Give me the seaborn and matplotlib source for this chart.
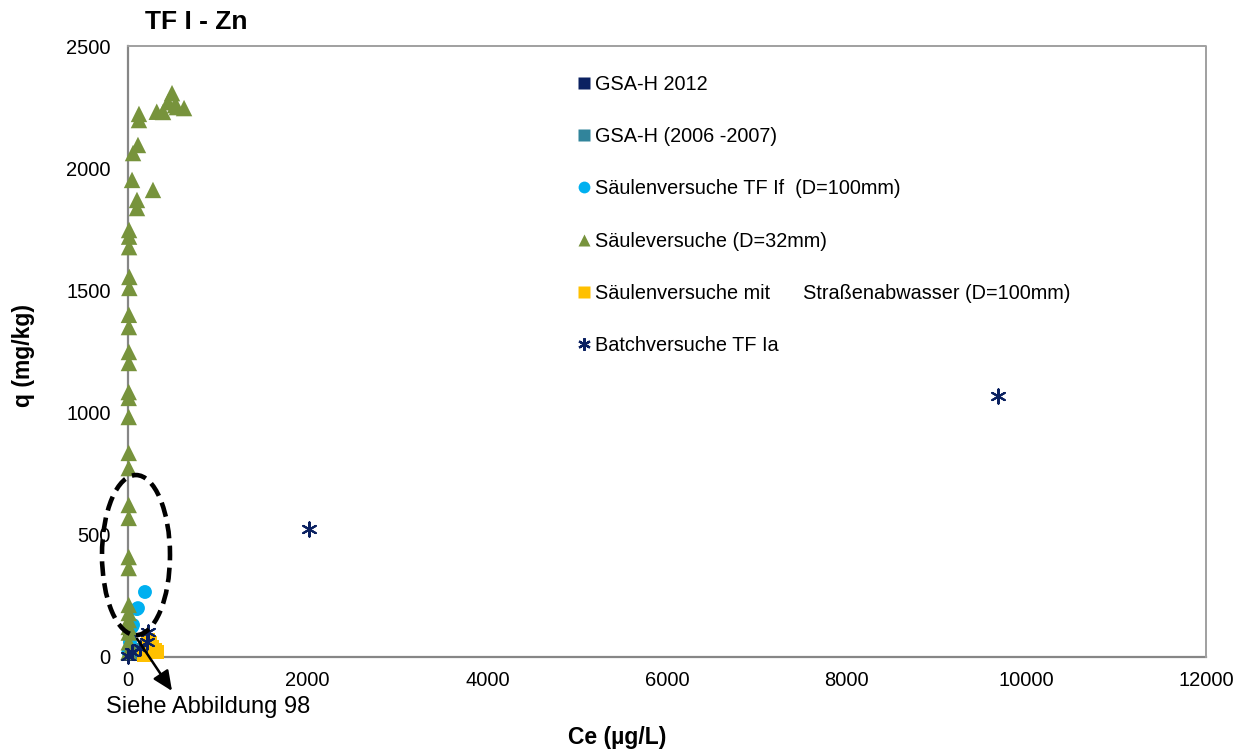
import numpy as np
import pandas as pd
import matplotlib
matplotlib.use("Agg")
import matplotlib.pyplot as plt
from matplotlib.patches import Ellipse
from matplotlib.lines import Line2D
import seaborn as sns

sns.set_theme(style="white")
plt.rcParams['font.family'] = ['Liberation Sans', 'DejaVu Sans']
plt.rcParams['text.color'] = 'black'
plt.rcParams['axes.labelcolor'] = 'black'
plt.rcParams['xtick.color'] = 'black'
plt.rcParams['ytick.color'] = 'black'

# ---------------- data ----------------
title = "TF I - Zn"
x_label = "Ce (µg/L)"
y_label = "q (mg/kg)"
note = "Siehe Abbildung 98"

series_names = [
    "GSA-H 2012",
    "GSA-H (2006 -2007)",
    "Säulenversuche TF If  (D=100mm)",
    "Säuleversuche (D=32mm)",
    "Säulenversuche mit      Straßenabwasser (D=100mm)",
    "Batchversuche TF Ia",
]

gsa2012_x = [15, 30]
gsa2012_y = [95, 10]

gsa0607_x = [134, 60]
gsa0607_y = [16, 30]

tfif_x = [189, 111, 56, 22, 5, 100, 45]
tfif_y = [266, 200, 131, 61, 20, 196, 123]

d32_x = [122, 122, 320, 390, 490, 445, 523, 545, 624, 111, 56, 45, 278, 100, 100,
         12, 12, 12, 15, 15, 10, 10, 10, 10, 8, 8, 8, 8, 8, 8, 8, 8, 8, 8, 8, 8, 8, 8, 8, 5]
d32_y = [2222, 2197, 2231, 2230, 2307, 2270, 2258, 2250, 2246, 2095, 2062, 1952, 1911, 1870, 1837,
         1747, 1720, 1677, 1555, 1510, 1400, 1350, 1248, 1203, 1084, 1060, 982, 835, 773,
         622, 569, 409, 364, 213, 180, 151, 123, 100, 60, 20]

strasse_x = [223, 323, 267, 300, 200, 250, 180]
strasse_y = [70, 20, 41, 29, 30, 57, 10]

batch_x = [2015, 9690, 223, 45, 134, 211, 5]
batch_y = [524, 1068, 102, 20, 37, 61, 5]

x_ticks = [0, 2000, 4000, 6000, 8000, 10000, 12000]
y_ticks = [0, 500, 1000, 1500, 2000, 2500]

# ---------------- styles ----------------
colors = ["#0B2161", "#31849B", "#00B0F0", "#77933C", "#FFC000", "#0B2161"]
markers = ["s", "s", "o", "^", "s", (6, 2, 0)]
sizes = [90, 90, 100, 140, 100, 105]

xs = [gsa2012_x, gsa0607_x, tfif_x, d32_x, strasse_x, batch_x]
ys = [gsa2012_y, gsa0607_y, tfif_y, d32_y, strasse_y, batch_y]

fig = plt.figure(figsize=(12.49, 7.54), dpi=100)
ax = fig.add_axes([128/1249, 1-657/754, (1206-128)/1249, (657-46)/754])

for name, x, y, c, m, s in zip(series_names, xs, ys, colors, markers, sizes):
    df = pd.DataFrame({"x": x, "y": y})
    if m == (6, 2, 0):
        sns.scatterplot(data=df, x="x", y="y", ax=ax, marker=m, s=s,
                        color=c, edgecolor=c, linewidth=1.5, legend=False,
                        zorder=3, clip_on=False)
    else:
        sns.scatterplot(data=df, x="x", y="y", ax=ax, marker=m, s=s,
                        color=c, edgecolor="none", linewidth=0, legend=False,
                        zorder=3, clip_on=False)

ax.set_xlim(0, 12000)
ax.set_ylim(0, 2500)
ax.set_xticks(x_ticks)
ax.set_yticks(y_ticks)
ax.set_xticklabels([str(v) for v in x_ticks], fontsize=14.5)
ax.set_yticklabels([str(v) for v in y_ticks], fontsize=14.5)
ax.tick_params(axis="x", direction="out", length=5, width=1.2, color="#868686", pad=5)
ax.tick_params(axis="y", length=0, pad=12.5)

for sp in ["left", "bottom"]:
    ax.spines[sp].set_color("#868686")
    ax.spines[sp].set_linewidth(1.6)
    ax.spines[sp].set_zorder(1)
for sp in ["top", "right"]:
    ax.spines[sp].set_color("#a0a0a0")
    ax.spines[sp].set_linewidth(1.4)
    ax.spines[sp].set_linestyle((0, (2, 1)))

ax.set_xlabel(x_label, fontsize=16.5, fontweight="bold")
ax.xaxis.set_label_coords(0.4536, -0.113)
ax.set_ylabel(y_label, fontsize=16.5, fontweight="bold")
ax.yaxis.set_label_coords(-0.0863, 0.494)

fig.text(145/1249, 1-22/754, title, fontsize=19, fontweight="bold", ha="left", va="center")

# dashed ellipse marking the low-concentration cluster
ell = Ellipse((89, 417), width=757, height=655, fill=False, edgecolor="black",
              lw=3.3, linestyle=(0, (3.2, 1.6)), zorder=5, clip_on=False)
ax.add_patch(ell)

# arrow to the note
ax.annotate("", xy=(490, -139), xytext=(100, 75), xycoords="data",
            arrowprops=dict(arrowstyle="-|>,head_length=1.0,head_width=0.45",
                            color="black", lw=1.8, shrinkA=0, shrinkB=0),
            annotation_clip=False, zorder=6)
fig.text(208/1249, 1-707/754, note, fontsize=17, ha="center", va="center")

# legend
handles = []
for name, c, m in zip(series_names, colors, markers):
    if m == (6, 2, 0):
        h = Line2D([], [], linestyle="none", marker=m, markersize=9,
                   markeredgecolor=c, markerfacecolor=c, markeredgewidth=1.6)
    else:
        h = Line2D([], [], linestyle="none", marker=m, markersize=8.5,
                   markeredgecolor="none", markerfacecolor=c)
    handles.append(h)
leg = ax.legend(handles, series_names, loc="upper left",
                bbox_to_anchor=(578/1249, 1-75/754), bbox_transform=fig.transFigure,
                frameon=False, fontsize=14.3, handlelength=0.6, handletextpad=0.25,
                labelspacing=1.67, borderpad=0, borderaxespad=0)

fig.savefig("out.png", dpi=100)
